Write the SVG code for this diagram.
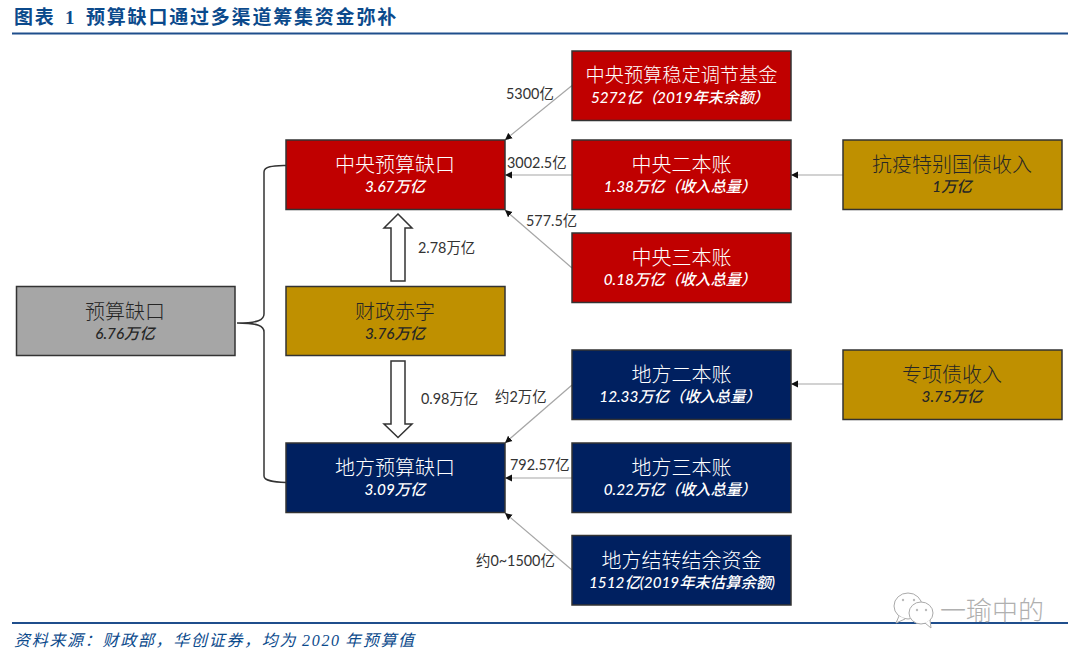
<svg xmlns="http://www.w3.org/2000/svg" width="1080" height="658" viewBox="0 0 1080 658">
<style>
text{font-family:"Lato","Noto Sans CJK SC",sans-serif}
.box{stroke:#333;stroke-width:1.5}
.red{fill:#C00000}.navy{fill:#002060}.gold{fill:#BF9000}.gray{fill:#A6A6A6}
.t{font-size:20px;font-weight:300;text-anchor:middle;font-family:"Noto Sans CJK SC",sans-serif}
.s{font-size:15.3px;font-style:italic;font-weight:500;text-anchor:middle}
.w{fill:#fff}.d{fill:#262626}
.lab{font-size:14.4px;fill:#333}
.conn{stroke:#a6a6a6;stroke-width:1.2;fill:none}
.brace{stroke:#333;stroke-width:1.5;fill:none}
.blk{fill:#fff;stroke:#333;stroke-width:1.5}
.rule{stroke:#1F4E8C;stroke-width:2}
.head{font-family:"Liberation Serif","Noto Sans CJK SC",serif;font-size:19px;font-weight:700;fill:#0B4A8C;letter-spacing:1.8px}
.foot{font-family:"Liberation Serif","Noto Sans CJK SC",serif;font-size:16px;font-style:italic;fill:#0B4A8C;letter-spacing:1.7px}
</style>
<defs>
<marker id="ah" markerUnits="userSpaceOnUse" markerWidth="8" markerHeight="8" refX="7" refY="4" orient="auto"><path d="M0,0.5L7,4L0,7.5Z" fill="#111"/></marker>
</defs>
<rect width="1080" height="658" fill="#fff"/>
<g id="header">
<line class="rule" x1="12" y1="33.500" x2="1068" y2="33.500"/>
<text class="head" y="24"><tspan x="14">图表</tspan><tspan x="65">1</tspan><tspan x="86">预算缺口通过多渠道筹集资金弥补</tspan></text>
</g>
<g id="connectors">
<line class="conn" x1="572" y1="85.500" x2="505" y2="140" marker-end="url(#ah)"/>
<line class="conn" x1="572" y1="175" x2="505" y2="175" marker-end="url(#ah)"/>
<line class="conn" x1="572" y1="268" x2="505" y2="210" marker-end="url(#ah)"/>
<line class="conn" x1="843" y1="175" x2="791" y2="175" marker-end="url(#ah)"/>
<line class="conn" x1="572" y1="385" x2="505" y2="443" marker-end="url(#ah)"/>
<line class="conn" x1="572" y1="478" x2="505" y2="478" marker-end="url(#ah)"/>
<line class="conn" x1="572" y1="570" x2="505" y2="513" marker-end="url(#ah)"/>
<line class="conn" x1="843" y1="384" x2="791" y2="384" marker-end="url(#ah)"/>
<path class="brace" d="M286,165.500C274,166 264,166 264,172V314C264,320 258,323 237,323C258,323 264,326 264,332V476C264,481 274,482 286,482.500"/>
<polygon class="blk" points="398,214 412,228 405,228 405,281 391,281 391,228 384,228"/>
<polygon class="blk" points="398,437.500 412,424 405,424 405,361 391,361 391,424 384,424"/>
</g>
<g id="edge-labels">
<text class="lab" x="506" y="99">5300亿</text>
<text class="lab" x="507" y="168">3002.5亿</text>
<text class="lab" x="526" y="226">577.5亿</text>
<text class="lab" x="418" y="253">2.78万亿</text>
<text class="lab" x="421" y="404">0.98万亿</text>
<text class="lab" x="495" y="402">约2万亿</text>
<text class="lab" x="510" y="470">792.57亿</text>
<text class="lab" x="476" y="566">约0~1500亿</text>
</g>
<g id="n-total"><rect class="box gray" x="16.500" y="286.500" width="218.500" height="69"/><text class="t d" x="125" y="319">预算缺口</text><text class="s d" x="125" y="339">6.76万亿</text></g>
<g id="n-central-gap"><rect class="box red" x="286" y="140" width="219" height="69.500"/><text class="t w" x="395" y="172">中央预算缺口</text><text class="s w" x="395" y="192">3.67万亿</text></g>
<g id="n-deficit"><rect class="box gold" x="286" y="286.500" width="219" height="69"/><text class="t d" x="395" y="319">财政赤字</text><text class="s d" x="395" y="339">3.76万亿</text></g>
<g id="n-local-gap"><rect class="box navy" x="286" y="443" width="219" height="69.500"/><text class="t w" x="395" y="475">地方预算缺口</text><text class="s w" x="395" y="495">3.09万亿</text></g>
<g id="n-stabilization"><rect class="box red" x="572" y="51" width="219" height="69.500"/><text class="t w" x="681.500" y="82" style="font-size:19.2px">中央预算稳定调节基金</text><text class="s w" x="680" y="103">5272亿（2019年末余额）</text></g>
<g id="n-central-2"><rect class="box red" x="572" y="140" width="219" height="69.500"/><text class="t w" x="681.500" y="172">中央二本账</text><text class="s w" x="680" y="192">1.38万亿（收入总量）</text></g>
<g id="n-central-3"><rect class="box red" x="572" y="233" width="219" height="69.500"/><text class="t w" x="681.500" y="265">中央三本账</text><text class="s w" x="680" y="285">0.18万亿（收入总量）</text></g>
<g id="n-antivirus"><rect class="box gold" x="843" y="140" width="219" height="69.500"/><text class="t d" x="952" y="172">抗疫特别国债收入</text><text class="s d" x="952" y="192">1万亿</text></g>
<g id="n-local-2"><rect class="box navy" x="572" y="350" width="219" height="69.500"/><text class="t w" x="681.500" y="382">地方二本账</text><text class="s w" x="680" y="402">12.33万亿（收入总量）</text></g>
<g id="n-local-3"><rect class="box navy" x="572" y="443" width="219" height="69.500"/><text class="t w" x="681.500" y="475">地方三本账</text><text class="s w" x="680" y="495">0.22万亿（收入总量）</text></g>
<g id="n-carryover"><rect class="box navy" x="572" y="535.500" width="219" height="69.500"/><text class="t w" x="681.500" y="568">地方结转结余资金</text><text class="s w" x="682" y="588">1512亿(2019年末估算余额)</text></g>
<g id="n-special"><rect class="box gold" x="843" y="350" width="219" height="69.500"/><text class="t d" x="952" y="382">专项债收入</text><text class="s d" x="952" y="402">3.75万亿</text></g>
<g id="footer">
<line class="rule" x1="12" y1="623" x2="1068" y2="623"/>
<text class="foot" y="646"><tspan x="14">资料来源：财政部，华创证券，均为</tspan><tspan x="302">2020</tspan><tspan x="345">年预算值</tspan></text>
</g>
<g id="watermark">
<ellipse cx="908" cy="606" rx="14" ry="13" fill="#fff" stroke="#aaa" stroke-width="1"/>
<path d="M899,616L896,623L905,619" fill="#fff" stroke="#aaa" stroke-width="1"/>
<ellipse cx="921" cy="613" rx="12" ry="11" fill="#fff" stroke="#aaa" stroke-width="1"/>
<path d="M925,623L931,628L930,620" fill="#fff" stroke="#aaa" stroke-width="1"/>
<circle cx="903" cy="600" r="1.200" fill="#bbb"/><circle cx="914" cy="600" r="1.200" fill="#bbb"/>
<circle cx="917" cy="610" r="1.200" fill="#bbb"/><circle cx="926" cy="610" r="1.200" fill="#bbb"/>
<text x="940" y="620" font-size="26" fill="#b0b0b0" style="font-family:'Noto Sans CJK SC',sans-serif;font-weight:300">一瑜中的</text>
</g>
</svg>
